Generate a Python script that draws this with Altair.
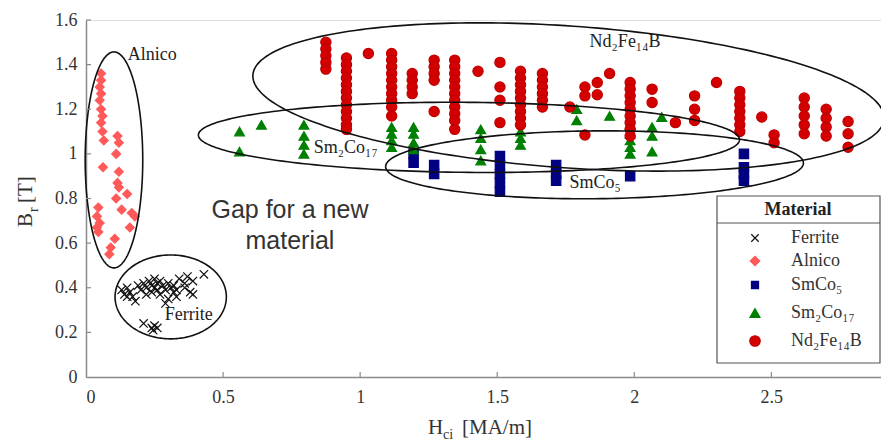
import altair as alt
import numpy as np
import pandas as pd

# ---------------- data ----------------
MATERIALS = ["Ferrite", "Alnico", "SmCo₅", "Sm₂Co₁₇", "Nd₂Fe₁₄B"]
FILLS = ["#000000", "#ff5a5a", "#000080", "#008000", "#d40000"]
STROKES = ["#111111", "#ff5a5a", "#000080", "#008000", "#c00000"]
SHAPES = ["M-1,-1L1,1M1,-1L-1,1", "diamond", "square", "triangle-up", "circle"]
SIZES = [70, 105, 36, 90, 115]
LEGEND_SIZES = [55, 90, 50, 100, 110]

ferrite_h = [0.13, 0.14, 0.15, 0.16, 0.17, 0.15, 0.18, 0.19, 0.20, 0.21, 0.22, 0.22,
             0.23, 0.24, 0.24, 0.25, 0.25, 0.26, 0.26, 0.27, 0.27, 0.28, 0.29, 0.30,
             0.30, 0.31, 0.32, 0.32, 0.33, 0.34, 0.36, 0.36, 0.37, 0.38, 0.39, 0.39,
             0.43, 0.29, 0.33, 0.21, 0.24, 0.25, 0.26, 0.245]
ferrite_b = [0.39, 0.37, 0.40, 0.38, 0.36, 0.36, 0.34, 0.41, 0.39, 0.42, 0.40, 0.37,
             0.43, 0.41, 0.38, 0.44, 0.40, 0.42, 0.39, 0.43, 0.37, 0.41, 0.39, 0.42,
             0.35, 0.40, 0.41, 0.38, 0.39, 0.44, 0.40, 0.42, 0.45, 0.38, 0.37, 0.43,
             0.46, 0.33, 0.36, 0.24, 0.22, 0.23, 0.22, 0.21]

alnico_h = [0.055, 0.055, 0.05, 0.055, 0.05, 0.055, 0.06, 0.055, 0.06, 0.065,
            0.062, 0.115, 0.12, 0.11, 0.12, 0.115, 0.12, 0.11, 0.15, 0.13, 0.167,
            0.16, 0.178, 0.045, 0.04, 0.05, 0.04, 0.045, 0.105, 0.09, 0.085]
alnico_b = [1.36, 1.33, 1.30, 1.27, 1.24, 1.20, 1.17, 1.14, 1.10, 1.06,
            0.94, 1.08, 1.05, 1.00, 0.92, 0.87, 0.85, 0.80, 0.82, 0.75, 0.735,
            0.67, 0.72, 0.76, 0.72, 0.69, 0.67, 0.65, 0.62, 0.58, 0.55]

smco5_h = [1.195, 1.195, 1.27, 1.27, 1.51, 1.51, 1.51, 1.51, 1.51,
           1.715, 1.715, 1.715, 1.985, 2.40, 2.40, 2.40, 2.40]
smco5_b = [1.00, 0.96, 0.95, 0.91, 0.99, 0.95, 0.91, 0.87, 0.83,
           0.95, 0.91, 0.88, 0.90, 1.00, 0.94, 0.91, 0.88]

sm2co17_h = [0.56, 0.56, 0.64, 0.795, 0.795, 0.795, 0.795, 1.115, 1.115, 1.115, 1.115,
             1.195, 1.195, 1.195, 1.195, 1.44, 1.44, 1.44, 1.44, 1.585, 1.585, 1.585,
             1.79, 1.79, 1.91, 1.985, 1.985, 1.985, 1.985, 1.985, 2.065, 2.065, 2.065, 2.10]
sm2co17_b = [1.10, 1.01, 1.13, 1.13, 1.08, 1.04, 1.00, 1.12, 1.09, 1.06, 1.03,
             1.12, 1.09, 1.05, 1.02, 1.11, 1.07, 1.02, 0.97, 1.10, 1.07, 1.04,
             1.20, 1.15, 1.17, 1.13, 1.09, 1.06, 1.03, 1.00, 1.12, 1.08, 1.01, 1.165]

nd_h = [0.875, 0.95, 1.03, 1.115, 1.19, 1.27, 1.345, 1.43, 1.51, 1.585, 1.665, 1.765,
        1.82, 1.865, 1.91, 1.985, 2.065, 2.15, 2.22, 2.30, 2.385, 2.465, 2.51, 2.62,
        2.70, 2.78]
nd_b = [[1.50, 1.47, 1.44, 1.41, 1.38],
        [1.43, 1.40, 1.37, 1.34, 1.31, 1.28, 1.25, 1.22, 1.19, 1.16, 1.13, 1.11],
        [1.45],
        [1.45, 1.42, 1.39, 1.36, 1.33, 1.30, 1.27, 1.24, 1.21, 1.17],
        [1.36, 1.33, 1.30, 1.27],
        [1.42, 1.39, 1.36, 1.33, 1.19],
        [1.42, 1.39, 1.36, 1.33, 1.30, 1.27, 1.24, 1.21, 1.18, 1.15, 1.11],
        [1.37],
        [1.41, 1.30, 1.24, 1.14],
        [1.37, 1.34, 1.31, 1.28, 1.25, 1.22, 1.19, 1.16, 1.13],
        [1.36, 1.33, 1.30, 1.27, 1.24, 1.21],
        [1.21],
        [1.30, 1.26, 1.085],
        [1.32, 1.265],
        [1.36],
        [1.32, 1.29, 1.26, 1.23, 1.20, 1.17, 1.14, 1.11, 1.08],
        [1.29, 1.23],
        [1.14],
        [1.26, 1.20, 1.15],
        [1.32],
        [1.28, 1.25, 1.22, 1.19, 1.16, 1.13, 1.10],
        [1.165],
        [1.085, 1.05],
        [1.25, 1.21, 1.17, 1.13, 1.09],
        [1.20, 1.16, 1.12, 1.08],
        [1.145, 1.09, 1.03]]

# ellipses around the families: centre, semi-axes (data units), tilt (deg)
ELL_NAMES = ["Alnico", "Ferrite", "Sm2Co17", "SmCo5", "Nd2Fe14B"]
ELL_CX = [0.102, 0.309, 1.397, 1.855, 1.760]
ELL_CY = [0.973, 0.359, 1.074, 0.951, 1.255]
ELL_A = [0.105, 0.203, 0.987, 0.762, 1.154]
ELL_B = [0.484, 0.188, 0.157, 0.152, 0.318]
ELL_TILT = [0.0, 0.0, -0.5, 0.5, -4.0]

ANNOT_TEXT = ["Alnico", "Ferrite", "Sm₂Co₁₇", "SmCo₅", "Nd₂Fe₁₄B"]
ANNOT_X = [0.152, 0.287, 0.831, 1.764, 1.837]
ANNOT_Y = [1.444, 0.278, 1.027, 0.870, 1.502]

GAP_TEXT = ["Gap for a new", "material"]
GAP_X = [0.744, 0.744]
GAP_Y = [0.749, 0.610]

X_TICKS = [0, 0.5, 1, 1.5, 2, 2.5]
Y_TICKS = [0, 0.2, 0.4, 0.6, 0.8, 1.0, 1.2, 1.4, 1.6]
X_DOMAIN = [0, 2.9]
Y_DOMAIN = [0, 1.6]

# ---------------- tables ----------------
rows = []
for h, b in zip(ferrite_h, ferrite_b):
    rows.append(("Ferrite", h, b))
for h, b in zip(alnico_h, alnico_b):
    rows.append(("Alnico", h, b))
for h, b in zip(smco5_h, smco5_b):
    rows.append(("SmCo₅", h, b))
for h, b in zip(sm2co17_h, sm2co17_b):
    rows.append(("Sm₂Co₁₇", h, b))
for h, bs in zip(nd_h, nd_b):
    for b in bs:
        rows.append(("Nd₂Fe₁₄B", h, b))
pts = pd.DataFrame(rows, columns=["material", "hci", "br"])
pts["idx"] = range(len(pts))

W, H = 795, 357
SX = W / (X_DOMAIN[1] - X_DOMAIN[0])
SY = H / (Y_DOMAIN[1] - Y_DOMAIN[0])
t = np.linspace(0, 2 * np.pi, 241)
erows = []
for n, cx, cy, a, b, tl in zip(ELL_NAMES, ELL_CX, ELL_CY, ELL_A, ELL_B, ELL_TILT):
    th = np.deg2rad(tl)
    u = a * SX * np.cos(t)
    v = b * SY * np.sin(t)
    Xp = u * np.cos(th) - v * np.sin(th)
    Yp = u * np.sin(th) + v * np.cos(th)
    for i in range(len(t)):
        erows.append((n, i, cx + Xp[i] / SX, cy + Yp[i] / SY))
ell = pd.DataFrame(erows, columns=["name", "i", "hci", "br"])

annot = pd.DataFrame({"text": ANNOT_TEXT, "hci": ANNOT_X, "br": ANNOT_Y})
gap = pd.DataFrame({"text": GAP_TEXT, "hci": GAP_X, "br": GAP_Y})

SERIF = "Liberation Serif"
xs = alt.Scale(domain=X_DOMAIN, nice=False, zero=False)
ys = alt.Scale(domain=Y_DOMAIN, nice=False, zero=False)
XAX = alt.Axis(values=X_TICKS, format="~g", ticks=False, grid=False, title=None,
               labelFont=SERIF, labelFontSize=18, labelColor="#333333",
               labelPadding=11, domainColor="#8a8a8a", domainWidth=1.5)
YAX = alt.Axis(values=Y_TICKS, format="~g", ticks=False, grid=False, title=None,
               labelFont=SERIF, labelFontSize=18, labelColor="#333333",
               labelPadding=9, domainColor="#8a8a8a", domainWidth=1.5)


def X(f):
    return alt.X(f, scale=xs, axis=XAX)


def Y(f):
    return alt.Y(f, scale=ys, axis=YAX)


points = alt.Chart(pts).mark_point(opacity=1, fillOpacity=1, strokeWidth=1.2).encode(
    x=X("hci:Q"),
    y=Y("br:Q"),
    fill=alt.Fill("material:N", scale=alt.Scale(domain=MATERIALS, range=FILLS), legend=None),
    stroke=alt.Stroke("material:N", scale=alt.Scale(domain=MATERIALS, range=STROKES), legend=None),
    shape=alt.Shape("material:N", scale=alt.Scale(domain=MATERIALS, range=SHAPES), legend=None),
    size=alt.Size("material:N", scale=alt.Scale(domain=MATERIALS, range=SIZES), legend=None),
    order=alt.Order("idx:Q"),
)

ellipses = alt.Chart(ell).mark_line(color="#111111", strokeWidth=1.6, clip=False).encode(
    x=X("hci:Q"), y=Y("br:Q"), detail="name:N", order="i:Q",
)

labels = alt.Chart(annot).mark_text(font=SERIF, fontSize=18, align="left",
                                     baseline="middle", color="#222222").encode(
    x=X("hci:Q"), y=Y("br:Q"), text="text:N",
)

gap_text = alt.Chart(gap).mark_text(font="Liberation Sans", fontSize=25, align="center",
                                     baseline="middle", color="#333333").encode(
    x=X("hci:Q"), y=Y("br:Q"), text="text:N",
)

xt = alt.Chart(pd.DataFrame({"v": X_TICKS[1:]})).mark_rule(color="#8a8a8a", strokeWidth=1.2).encode(
    x=X("v:Q"), y=alt.value(H), y2=alt.value(H - 5))
yt = alt.Chart(pd.DataFrame({"v": Y_TICKS[1:]})).mark_rule(color="#8a8a8a", strokeWidth=1.2).encode(
    y=Y("v:Q"), x=alt.value(0), x2=alt.value(5))

# ---------------- legend (drawn by hand so the subscripts show) ----------------
box = alt.Chart(pd.DataFrame({"k": [0]})).mark_rect(fill="white", stroke="#555555",
                                                   strokeWidth=1.2).encode(
    x=alt.value(631), x2=alt.value(794), y=alt.value(176), y2=alt.value(343))
sep = alt.Chart(pd.DataFrame({"k": [0]})).mark_rule(color="#555555", strokeWidth=1.2).encode(
    x=alt.value(631), x2=alt.value(794), y=alt.value(203))
ltitle = alt.Chart(pd.DataFrame({"t": ["Material"]})).mark_text(
    font=SERIF, fontSize=18, fontWeight="bold", align="center", baseline="middle",
    color="#222222").encode(x=alt.value(712), y=alt.value(190), text="t:N")

LEG_ROW_Y = [218, 241, 265, 293, 321]
leg_layers = []
for m, f, s, sh, sz, ry in zip(MATERIALS, FILLS, STROKES, SHAPES, LEGEND_SIZES, LEG_ROW_Y):
    leg_layers.append(
        alt.Chart(pd.DataFrame({"m": [m]})).mark_point(
            shape=sh, fill=f, stroke=s, size=sz, strokeWidth=1.2, opacity=1, fillOpacity=1
        ).encode(x=alt.value(669), y=alt.value(ry))
    )
    leg_layers.append(
        alt.Chart(pd.DataFrame({"m": [m]})).mark_text(
            font=SERIF, fontSize=18, align="left", baseline="middle", color="#333333"
        ).encode(x=alt.value(705), y=alt.value(ry), text="m:N")
    )


def txt(s, x, y, size, angle=0):
    return alt.Chart(pd.DataFrame({"t": [s]})).mark_text(
        font=SERIF, fontSize=size, align="left", baseline="alphabetic", angle=angle,
        color="#333333").encode(x=alt.value(x), y=alt.value(y), text="t:N")


xtitle = [txt("H", 342, 414, 21), txt("ci", 357, 419, 14), txt("[MA/m]", 376, 414, 21)]
ytitle = [txt("B", -54, 207, 21, 270), txt("r", -48, 192, 14, 270),
          txt("[T]", -54, 183, 21, 270)]

chart = alt.layer(
    points, ellipses, gap_text, xt, yt, labels, box, sep, ltitle, *leg_layers,
    *xtitle, *ytitle
).properties(
    width=W, height=H,
    autosize=alt.AutoSizeParams(type="none"),
    padding={"left": 78, "top": 12, "right": 0, "bottom": 70},
).configure_view(stroke=None).configure(background="white")

chart.save("out.html", embed_options={"renderer": "svg", "actions": False})
